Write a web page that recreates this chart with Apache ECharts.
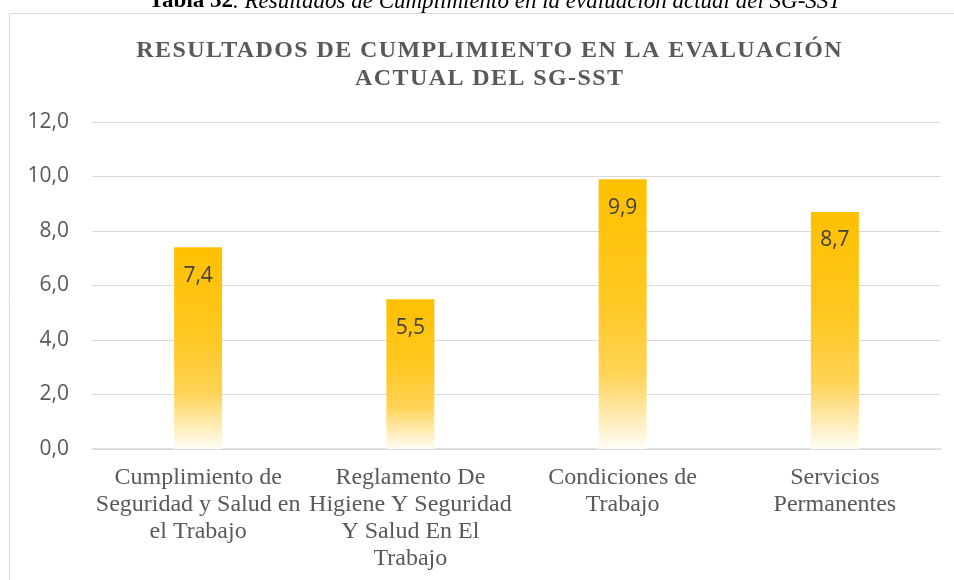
<!DOCTYPE html>
<html>
<head>
<meta charset="utf-8">
<script src="https://cdn.jsdelivr.net/npm/echarts@6/dist/echarts.min.js"></script>
<style>html,body{margin:0;padding:0;background:#fff;}#c{width:954px;height:580px;}</style>
</head>
<body>
<div id="c"></div>
<script>
const categories = [
  "Cumplimiento de\nSeguridad y Salud en\nel Trabajo",
  "Reglamento De\nHigiene Y Seguridad\nY Salud En El\nTrabajo",
  "Condiciones de\nTrabajo",
  "Servicios\nPermanentes"
];
const values = [7.4, 5.5, 9.9, 8.7];
const yTicks = { min: 0, max: 12, interval: 2 };
const titleText = "RESULTADOS DE CUMPLIMIENTO EN LA EVALUACIÓN\nACTUAL DEL SG-SST";
const captionBold = "Tabla 32";
const captionItalic = ". Resultados de Cumplimiento en la evaluación actual del SG-SST";

const fmt = v => v.toFixed(1).replace('.', ',');

// Expanded character spacing for the chart title (as in the original chart style)
(function () {
  const proto = CanvasRenderingContext2D.prototype;
  const orig = proto.fillText;
  proto.fillText = function (t, x, y, m) {
    if (/bold/.test(this.font) && /24px/.test(this.font) && 'letterSpacing' in this) {
      const prev = this.letterSpacing;
      this.letterSpacing = '1.4px';
      let dx = 0;
      if (this.textAlign === 'left' || this.textAlign === 'start') dx = -0.7 * String(t).length;
      else if (this.textAlign === 'right' || this.textAlign === 'end') dx = 1.4 * String(t).length;
      else dx = 0.7;
      const r = m === undefined ? orig.call(this, t, x + dx, y) : orig.call(this, t, x + dx, y, m);
      this.letterSpacing = prev;
      return r;
    }
    return m === undefined ? orig.call(this, t, x, y) : orig.call(this, t, x, y, m);
  };
})();

const chart = echarts.init(document.getElementById('c'), null, { renderer: 'canvas' });
chart.setOption({
  animation: false,
  backgroundColor: '#ffffff',
  graphic: [
    { type: 'rect', shape: { x: 9.5, y: 13.5, width: 1000, height: 700 },
      style: { fill: 'none', stroke: '#D9D9D9', lineWidth: 1 }, z: -1 },
    { type: 'text', x: 495, y: 13, style: {
        text: '{b|' + captionBold + '}{i|' + captionItalic + '}',
        align: 'center', verticalAlign: 'bottom',
        rich: {
          b: { fontFamily: 'Liberation Serif', fontWeight: 'bold', fontSize: 23, fill: '#000' },
          i: { fontFamily: 'Liberation Serif', fontStyle: 'italic', fontSize: 23, fill: '#000' }
        }
    } }
  ],
  title: {
    text: titleText,
    left: 484,
    top: 32,
    textAlign: 'center',
    textStyle: {
      fontFamily: 'Liberation Serif', fontWeight: 'bold', fontSize: 24,
      color: '#595959', lineHeight: 28
    }
  },
  grid: { left: 92, right: 13, top: 122, bottom: 131, containLabel: false },
  xAxis: {
    type: 'category',
    data: categories,
    axisLine: { lineStyle: { color: '#D9D9D9', width: 1.5 } },
    axisTick: { show: false },
    axisLabel: {
      fontFamily: 'Liberation Serif', fontSize: 24, color: '#595959',
      lineHeight: 27, margin: 15, interval: 0
    }
  },
  yAxis: {
    type: 'value',
    min: yTicks.min, max: yTicks.max, interval: yTicks.interval,
    axisLine: { show: false },
    axisTick: { show: false },
    splitLine: { lineStyle: { color: '#D9D9D9', width: 1 } },
    axisLabel: {
      fontFamily: 'Open Sans', fontSize: 21, color: '#595959', margin: 23,
      formatter: v => fmt(v)
    }
  },
  series: [{
    type: 'bar',
    data: values,
    barWidth: 48,
    itemStyle: {
      color: {
        type: 'linear', x: 0, y: 0, x2: 0, y2: 1,
        colorStops: [
          { offset: 0, color: '#FFC000' },
          { offset: 0.45, color: '#FFC823' },
          { offset: 0.72, color: '#FFD356' },
          { offset: 1, color: '#FFFDF7' }
        ]
      }
    },
    label: {
      show: true, position: 'insideTop', distance: 18,
      fontFamily: 'Open Sans', fontSize: 21, color: '#404040',
      formatter: p => fmt(p.value)
    }
  }]
});
</script>
</body>
</html>
